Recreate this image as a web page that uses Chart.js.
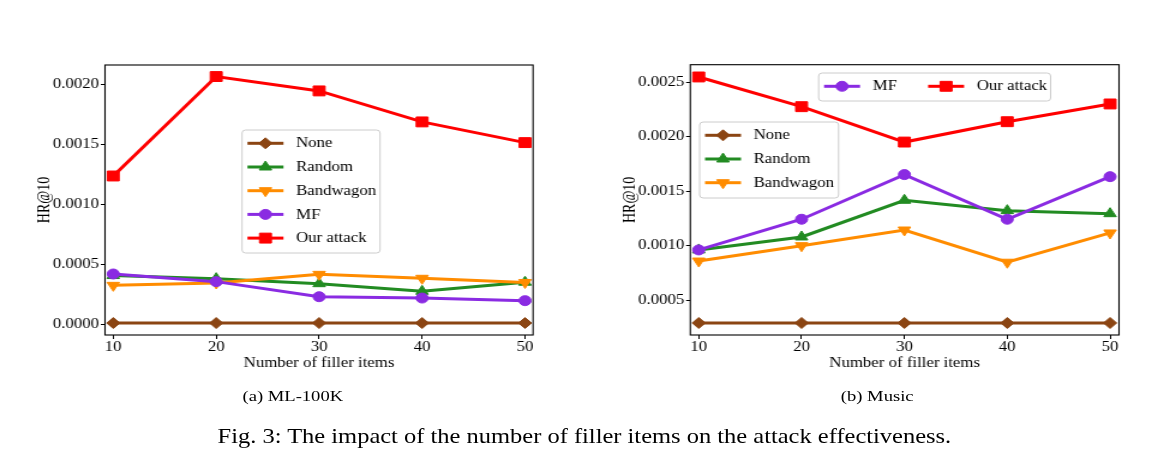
<!DOCTYPE html>
<html>
<head>
<meta charset="utf-8">
<script src="https://cdn.jsdelivr.net/npm/chart.js@4.4.0/dist/chart.umd.min.js"></script>
<style>
  body { margin: 0; background: #fff; overflow: hidden; }
  #page {
    position: relative; width: 980px; height: 475px;
    transform: scaleX(1.2); transform-origin: 0 0;
    font-family: "Liberation Serif", "DejaVu Serif", serif; color: #000;
  }
  canvas { position: absolute; top: 0; }
  #mlChart { left: 0; }
  #musicChart { left: 488px; }
  .cap { position: absolute; white-space: nowrap; transform: translateX(-50%); line-height: 1; }
</style>
</head>
<body>
<div id="page">
  <canvas id="mlChart" width="488" height="380"></canvas>
  <canvas id="musicChart" width="492" height="380"></canvas>
  <div class="cap" style="left:244px; top:388px; font-size:15.5px">(a) ML-100K</div>
  <div class="cap" style="left:731px; top:388px; font-size:15.5px">(b) Music</div>
  <div class="cap" style="left:487px; top:426px; font-size:20.4px">Fig. 3: The impact of the number of filler items on the attack effectiveness.</div>
</div>
<script>
// ======================================
// Data
// ======================================
const fillerCounts = [10, 20, 30, 40, 50];
const seriesNames = ["None", "Random", "Bandwagon", "MF", "Our attack"];

// (a) ML-100K
const mlNone      = [0.000008, 0.000008, 0.000008, 0.000008, 0.000008];
const mlRandom    = [0.000405, 0.000379, 0.000337, 0.000273, 0.000349];
const mlBandwagon = [0.000323, 0.000343, 0.000415, 0.000382, 0.000347];
const mlMF        = [0.000418, 0.000354, 0.000228, 0.000217, 0.000195];
const mlOurs      = [0.001237, 0.002068, 0.001948, 0.001689, 0.001516];
const mlTicks     = [0.0000, 0.0005, 0.0010, 0.0015, 0.0020];

// (b) Music
const musicNone      = [0.000289, 0.000289, 0.000289, 0.000289, 0.000289];
const musicRandom    = [0.000960, 0.001079, 0.001416, 0.001321, 0.001293];
const musicBandwagon = [0.000858, 0.000999, 0.001143, 0.000847, 0.001116];
const musicMF        = [0.000960, 0.001242, 0.001652, 0.001242, 0.001633];
const musicOurs      = [0.002549, 0.002276, 0.001951, 0.002138, 0.002301];
const musicTicks     = [0.0005, 0.0010, 0.0015, 0.0020, 0.0025];

// ======================================
// Styles
// ======================================
const FONT = '"Liberation Serif", "DejaVu Serif", serif';
Chart.defaults.font.family = FONT;
Chart.defaults.font.size = 14;
Chart.defaults.color = "#000";

const looks = {
    "None":       {color: "#8B4513", style: "rectRot",  radius: 5.5, rot: 0,   order: 5},
    "Random":     {color: "#228B22", style: "triangle", radius: 6,   rot: 0,   order: 4},
    "Bandwagon":  {color: "#FF8C00", style: "triangle", radius: 6,   rot: 180, order: 3},
    "MF":         {color: "#8A2BE2", style: "circle",   radius: 5,   rot: 0,   order: 2},
    "Our attack": {color: "#FF0000", style: "rect",     radius: 7,   rot: 0,   order: 1}
};

function makeSeries(name, values) {
    const l = looks[name];
    return {
        label: name,
        data: fillerCounts.map((x, i) => ({x: x, y: values[i]})),
        borderColor: l.color,
        backgroundColor: l.color,
        pointBackgroundColor: l.color,
        pointBorderColor: l.color,
        pointBorderWidth: 1,
        pointStyle: l.style,
        pointRadius: l.radius,
        pointRotation: l.rot,
        borderWidth: 3,
        order: l.order,
        clip: false,
        tension: 0
    };
}

// ======================================
// Plugins: axes frame + in-plot legends
// ======================================
function drawMarker(ctx, style, r, rotDeg, x, y, color) {
    ctx.fillStyle = color;
    ctx.strokeStyle = color;
    ctx.lineWidth = 1;
    ctx.beginPath();
    if (style === "circle") {
        ctx.arc(x, y, r, 0, Math.PI * 2);
    } else if (style === "rect") {
        const s = r * Math.SQRT1_2;
        ctx.rect(x - s, y - s, 2 * s, 2 * s);
    } else if (style === "rectRot") {
        ctx.moveTo(x - r, y); ctx.lineTo(x, y - r);
        ctx.lineTo(x + r, y); ctx.lineTo(x, y + r);
        ctx.closePath();
    } else if (style === "triangle") {
        let a = rotDeg * Math.PI / 180;
        for (let k = 0; k < 3; k++) {
            const px = x + Math.sin(a) * r, py = y - Math.cos(a) * r;
            if (k === 0) ctx.moveTo(px, py); else ctx.lineTo(px, py);
            a += 2 * Math.PI / 3;
        }
        ctx.closePath();
    }
    ctx.fill();
    ctx.stroke();
}

const framePlugin = {
    id: "frame",
    afterDatasetsDraw(chart) {
        const {ctx, chartArea: a} = chart;
        ctx.save();
        ctx.strokeStyle = "#000";
        ctx.lineWidth = 1.1;
        ctx.strokeRect(a.left, a.top, a.right - a.left, a.bottom - a.top);
        ctx.restore();
    }
};

const boxLegend = {
    id: "boxLegend",
    afterDraw(chart, args, opts) {
        const ctx = chart.ctx;
        (opts.boxes || []).forEach(box => {
            ctx.save();
            ctx.beginPath();
            ctx.roundRect(box.x, box.y, box.w, box.h, 3);
            ctx.fillStyle = "rgba(255,255,255,0.8)";
            ctx.fill();
            ctx.strokeStyle = "#cccccc";
            ctx.lineWidth = 1;
            ctx.stroke();
            box.items.forEach((name, k) => {
                const ds = chart.data.datasets.find(d => d.label === name);
                const cols = box.cols || 1;
                const col = k % cols, row = Math.floor(k / cols);
                const hx = box.x + 4.5 + col * (box.colW || 0);
                const cy = box.y + 13.3 + row * 23.7;
                ctx.beginPath();
                ctx.moveTo(hx, cy);
                ctx.lineTo(hx + 30, cy);
                ctx.strokeStyle = ds.borderColor;
                ctx.lineWidth = ds.borderWidth;
                ctx.stroke();
                drawMarker(ctx, ds.pointStyle, ds.pointRadius, ds.pointRotation, hx + 15, cy, ds.borderColor);
                ctx.fillStyle = "#000";
                ctx.font = "14px " + FONT;
                ctx.textAlign = "left";
                ctx.textBaseline = "middle";
                ctx.fillText(name, hx + 40.5, cy + 0.5);
            });
            ctx.restore();
        });
    }
};

// ======================================
// Chart builder
// ======================================
function buildChart(canvasId, datasets, cfg) {
    const ctx = document.getElementById(canvasId).getContext("2d");
    return new Chart(ctx, {
        type: "line",
        data: {datasets: datasets},
        plugins: [framePlugin, boxLegend],
        options: {
            responsive: false,
            animation: false,
            events: [],
            layout: {padding: {left: 0, top: cfg.top, right: cfg.right, bottom: 0}},
            plugins: {
                legend: {display: false},
                tooltip: {enabled: false},
                boxLegend: {boxes: cfg.legends}
            },
            scales: {
                x: {
                    type: "linear",
                    min: cfg.xMin,
                    max: cfg.xMax,
                    afterBuildTicks: s => { s.ticks = fillerCounts.map(v => ({value: v})); },
                    afterFit: s => { s.height = 45; },
                    grid: {drawOnChartArea: false, drawTicks: true, tickLength: 4, color: "#000"},
                    border: {display: false},
                    ticks: {padding: 0, maxRotation: 0, font: {size: 14}},
                    title: {display: true, text: "Number of filler items", font: {size: 14}, padding: {top: 0, bottom: 8.6}}
                },
                y: {
                    type: "linear",
                    min: cfg.yMin,
                    max: cfg.yMax,
                    afterBuildTicks: s => { s.ticks = cfg.yTicks.map(v => ({value: v})); },
                    afterFit: s => { s.width = cfg.yWidth; },
                    grid: {drawOnChartArea: false, drawTicks: true, tickLength: 3.5, color: "#000"},
                    border: {display: false},
                    ticks: {padding: 1.5, font: {size: 14}, callback: v => Number(v).toFixed(4)},
                    title: {display: true, text: "HR@10", font: {size: 14}, padding: {top: 28.5, bottom: 0}}
                }
            }
        }
    });
}

buildChart("mlChart", [
    makeSeries("None", mlNone),
    makeSeries("Random", mlRandom),
    makeSeries("Bandwagon", mlBandwagon),
    makeSeries("MF", mlMF),
    makeSeries("Our attack", mlOurs)
], {
    top: 65, right: 43.8, yWidth: 87.5,
    xMin: 9.2, xMax: 50.78,
    yMin: -0.0000919, yMax: 0.0021646, yTicks: mlTicks,
    legends: [
        {x: 201.7, y: 130, w: 115, h: 123, items: seriesNames}
    ]
});

buildChart("musicChart", [
    makeSeries("None", musicNone),
    makeSeries("Random", musicRandom),
    makeSeries("Bandwagon", musicBandwagon),
    makeSeries("MF", musicMF),
    makeSeries("Our attack", musicOurs)
], {
    top: 64.7, right: 47.5, yWidth: 87.25,
    xMin: 9.18, xMax: 50.87,
    yMin: 0.0001785, yMax: 0.0026617, yTicks: musicTicks,
    legends: [
        {x: 194.2, y: 73, w: 193.3, h: 28, cols: 2, colW: 86.7, items: ["MF", "Our attack"]},
        {x: 95, y: 122, w: 115.8, h: 76, items: ["None", "Random", "Bandwagon"]}
    ]
});
</script>
</body>
</html>
